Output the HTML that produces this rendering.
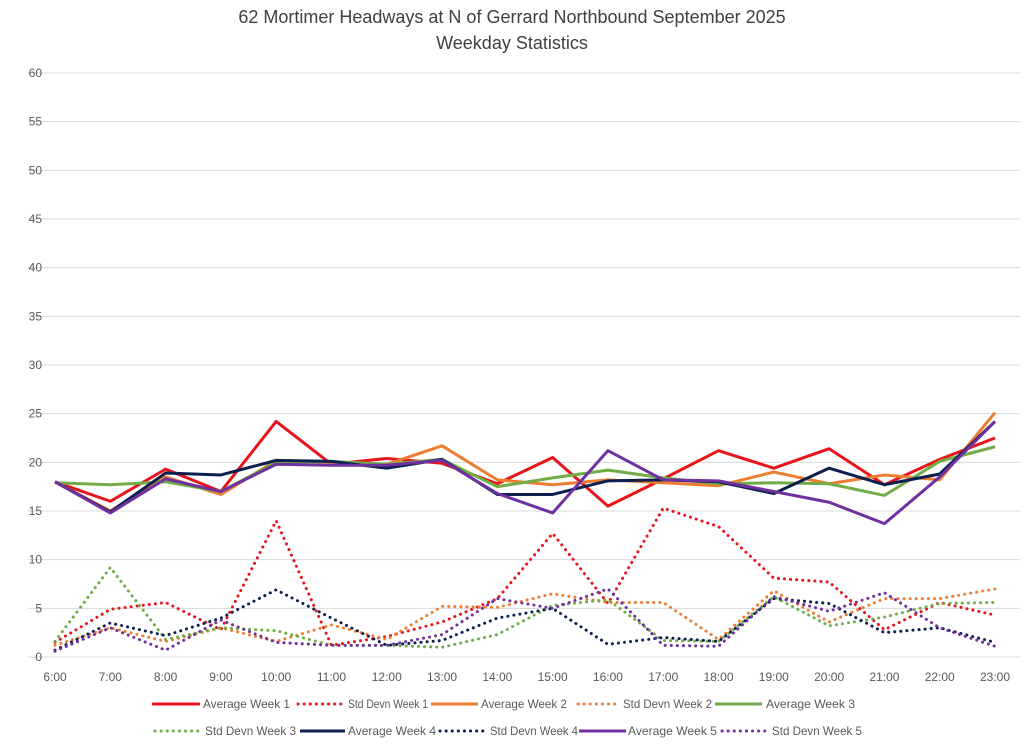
<!DOCTYPE html>
<html><head><meta charset="utf-8"><style>
body{margin:0;background:#fff;font-family:"Liberation Sans",sans-serif}
svg text{font-family:"Liberation Sans",sans-serif}
</style></head><body>
<svg id="chart" width="1024" height="743" xmlns="http://www.w3.org/2000/svg">
<text x="512" y="23" font-size="18" fill="#404040" text-anchor="middle">62 Mortimer Headways at N of Gerrard Northbound September 2025</text>
<text x="512" y="49" font-size="18" fill="#404040" text-anchor="middle">Weekday Statistics</text>
<g id="grid"></g><g id="series"></g><g id="legend"></g>
</svg>
<script>
const categories=["6:00","7:00","8:00","9:00","10:00","11:00","12:00","13:00","14:00","15:00","16:00","17:00","18:00","19:00","20:00","21:00","22:00","23:00"];
const yTicks=[0,5,10,15,20,25,30,35,40,45,50,55,60];
const avgW1=[18,16,19.3,17,24.2,19.8,20.4,19.9,17.8,20.5,15.5,18.3,21.2,19.4,21.4,17.7,20.3,22.5];
const stdW1=[1.5,4.9,5.6,2.8,14,1.2,2.1,3.6,6,12.7,5.5,15.3,13.4,8.1,7.7,2.8,5.6,4.3];
const avgW2=[18,15,18.5,16.7,20.2,20,19.8,21.7,18.2,17.7,18.2,17.9,17.6,19,17.8,18.7,18.2,25.1];
const stdW2=[1.2,3,1.6,3,1.6,3.3,1.8,5.2,5.1,6.5,5.6,5.6,1.8,6.8,3.6,6,6,7];
const avgW3=[17.9,17.7,18,17,20,20.1,19.8,20.3,17.5,18.4,19.2,18.4,17.8,17.9,17.8,16.6,20.1,21.6];
const stdW3=[1.6,9.2,1.8,3,2.7,1.2,1.2,1,2.3,5.3,5.9,1.7,1.6,6.2,3.2,4.1,5.5,5.6];
const avgW4=[18,14.9,18.9,18.7,20.2,20.1,19.4,20.3,16.7,16.7,18.1,18.2,18,16.8,19.4,17.7,18.8,24.2];
const stdW4=[0.7,3.5,2.2,4,6.9,4,1.2,1.7,4,5,1.3,2,1.6,6,5.5,2.5,3,1.5];
const avgW5=[18,14.8,18.3,17,19.8,19.7,19.7,20.2,16.8,14.8,21.2,18.2,18.1,17,15.9,13.7,18.5,24.2];
const stdW5=[0.6,3,0.7,3.8,1.5,1.2,1.2,2.3,6,5,7,1.2,1.1,6.2,4.7,6.6,3,1.1];

const NS="http://www.w3.org/2000/svg";
const X0=55,X1=995,Y0=657,Y60=73,PL=28,PR=1020;
const x=i=>X0+i*(X1-X0)/(categories.length-1);
const y=v=>Y0-v*(Y0-Y60)/60;
function mk(t,a,p){const e=document.createElementNS(NS,t);for(const k in a)e.setAttribute(k,a[k]);p.appendChild(e);return e;}
const grid=document.getElementById('grid');
yTicks.forEach(v=>{
  const l=mk('line',{x1:PL,x2:PR,y1:y(v),y2:y(v),stroke:'#d9d9d9','stroke-width':1},grid);
  
  
  const t=mk('text',{x:42,y:y(v)+4,'font-size':12,fill:'#595959','text-anchor':'end'},grid);
  t.textContent=v;
  
  
});
categories.forEach((c,i)=>{
  const t=mk('text',{x:x(i),y:681,'font-size':12,fill:'#595959','text-anchor':'middle'},grid);
  t.textContent=c;
  
  
});
const series=[
 ["Average Week 1",avgW1,'#e8141c',false],["Std Devn Week 1",stdW1,'#e8141c',true],
 ["Average Week 2",avgW2,'#ed7d31',false],["Std Devn Week 2",stdW2,'#ed7d31',true],
 ["Average Week 3",avgW3,'#70ad47',false],["Std Devn Week 3",stdW3,'#70ad47',true],
 ["Average Week 4",avgW4,'#0d1f4f',false],["Std Devn Week 4",stdW4,'#0d1f4f',true],
 ["Average Week 5",avgW5,'#7030a0',false],["Std Devn Week 5",stdW5,'#7030a0',true]];
const sg=document.getElementById('series');
const draw=[...series.filter(s=>s[3]),...series.filter(s=>!s[3])];
draw.forEach(s=>{
  const pts=s[1].map((v,i)=>x(i)+','+y(v)).join(' ');
  const a={points:pts,fill:'none',stroke:s[2],'stroke-width':3,'stroke-linejoin':'round'};
  if(s[3]){a['stroke-dasharray']='0.1 6';a['stroke-linecap']='round';}
  const p=mk('polyline',a,sg);
  
  
});
const lg=document.getElementById('legend');
// [swatch start, swatch end, text start, text end, y]
const pos=[[152,200,203,290,704],[298,342,348,428,704],[431,478,481,567,704],[578,618,623,712,704],[715,762,766,855,704],
           [155,200,205,296,731],[300,345,348,436,731],[440,484,490,578,731],[579,626,628,717,731],[722,766,772,862,731]];
series.forEach((s,i)=>{
  const [a0,a1,t0,t1,ly]=pos[i];
  const a={x1:a0,x2:a1,y1:ly,y2:ly,stroke:s[2],'stroke-width':3};
  if(s[3]){a['stroke-dasharray']='0.1 6';a['stroke-linecap']='round';}
  const l=mk('line',a,lg);
  
  
  const t=mk('text',{x:t0,y:ly+4,'font-size':12,fill:'#595959',textLength:t1-t0,lengthAdjust:'spacingAndGlyphs'},lg);
  t.textContent=s[0];
  
  
});
</script>
</body></html>
